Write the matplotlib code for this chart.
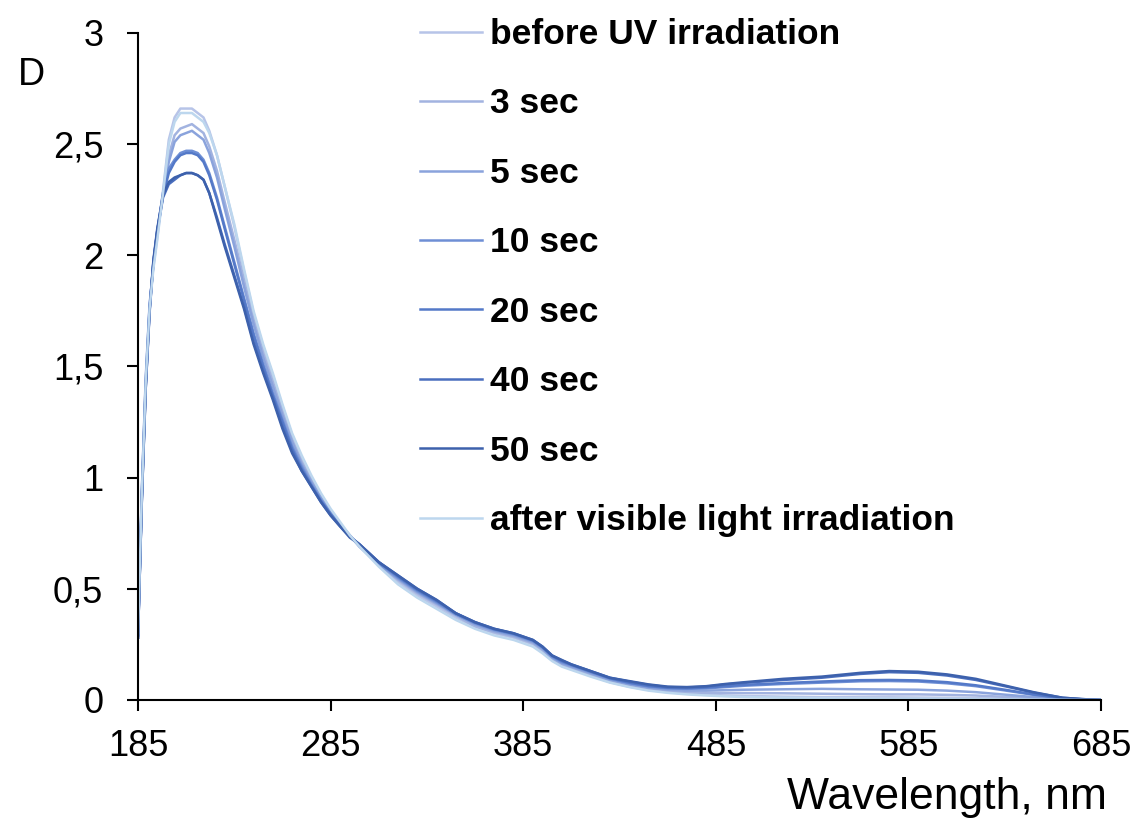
import matplotlib
matplotlib.use("Agg")
import matplotlib.pyplot as plt

plt.rcParams['font.family'] = ['Liberation Sans', 'DejaVu Sans']

wavelength = [185, 187, 189, 191, 193, 195, 198, 201, 204, 207, 210, 213, 216, 219, 222,
              226, 230, 235, 240, 245, 250, 255, 260, 265, 270, 275, 280, 285, 290, 295,
              300, 310, 320, 330, 340, 350, 360, 370, 380, 390, 395, 400, 405, 410, 420,
              430, 440, 450, 460, 470, 480, 490, 500, 520, 540, 560, 575, 590, 605, 620,
              635, 650, 665, 675, 685]

before_uv = [0.30, 0.95, 1.45, 1.78, 1.95, 2.08, 2.29, 2.52, 2.62, 2.66, 2.66, 2.66, 2.64, 2.62, 2.56,
             2.45, 2.31, 2.13, 1.93, 1.74, 1.59, 1.46, 1.32, 1.19, 1.09, 1.00, 0.92, 0.85, 0.79, 0.74,
             0.69, 0.61, 0.53, 0.47, 0.42, 0.37, 0.33, 0.30, 0.28, 0.25, 0.22, 0.18, 0.155, 0.14, 0.11,
             0.08, 0.06, 0.045, 0.035, 0.028, 0.024, 0.02, 0.018, 0.015, 0.013, 0.012, 0.012, 0.011, 0.01, 0.008,
             0.006, 0.004, 0.002, 0.001, 0.0]

sec_3 = [0.30, 0.94, 1.44, 1.77, 1.96, 2.10, 2.28, 2.45, 2.54, 2.57, 2.58, 2.59, 2.57, 2.55, 2.49,
         2.38, 2.24, 2.07, 1.89, 1.71, 1.56, 1.43, 1.30, 1.17, 1.07, 0.99, 0.91, 0.85, 0.79, 0.74,
         0.69, 0.61, 0.54, 0.48, 0.43, 0.38, 0.33, 0.305, 0.285, 0.255, 0.225, 0.185, 0.16, 0.145, 0.115,
         0.085, 0.065, 0.05, 0.04, 0.034, 0.032, 0.031, 0.031, 0.03, 0.028, 0.026, 0.025, 0.025, 0.023, 0.02,
         0.014, 0.008, 0.003, 0.001, 0.0]

sec_5 = [0.29, 0.93, 1.43, 1.77, 1.96, 2.10, 2.27, 2.42, 2.51, 2.54, 2.55, 2.56, 2.54, 2.52, 2.46,
         2.35, 2.21, 2.04, 1.86, 1.69, 1.54, 1.41, 1.28, 1.16, 1.06, 0.98, 0.91, 0.84, 0.79, 0.74,
         0.69, 0.61, 0.545, 0.485, 0.435, 0.385, 0.34, 0.31, 0.29, 0.26, 0.23, 0.19, 0.165, 0.15, 0.12,
         0.09, 0.07, 0.055, 0.046, 0.042, 0.042, 0.044, 0.046, 0.048, 0.05, 0.048, 0.047, 0.046, 0.042, 0.035,
         0.024, 0.013, 0.005, 0.002, 0.0]

sec_10 = [0.29, 0.92, 1.42, 1.76, 1.97, 2.11, 2.28, 2.39, 2.43, 2.46, 2.47, 2.47, 2.46, 2.43, 2.37,
          2.26, 2.13, 1.97, 1.81, 1.65, 1.51, 1.38, 1.26, 1.14, 1.05, 0.97, 0.90, 0.84, 0.785, 0.735,
          0.695, 0.615, 0.55, 0.49, 0.44, 0.385, 0.345, 0.315, 0.295, 0.265, 0.235, 0.195, 0.17, 0.155, 0.125,
          0.095, 0.075, 0.06, 0.052, 0.05, 0.052, 0.058, 0.064, 0.072, 0.078, 0.084, 0.085, 0.083, 0.075, 0.062,
          0.043, 0.023, 0.007, 0.002, 0.0]

sec_20 = [0.28, 0.91, 1.41, 1.75, 1.97, 2.11, 2.27, 2.37, 2.42, 2.45, 2.46, 2.46, 2.45, 2.42, 2.36,
          2.25, 2.12, 1.96, 1.80, 1.64, 1.50, 1.37, 1.25, 1.13, 1.04, 0.965, 0.895, 0.835, 0.785, 0.735,
          0.70, 0.62, 0.555, 0.495, 0.445, 0.39, 0.348, 0.318, 0.298, 0.268, 0.238, 0.198, 0.175, 0.158, 0.128,
          0.098, 0.078, 0.063, 0.055, 0.053, 0.056, 0.062, 0.068, 0.076, 0.083, 0.089, 0.09, 0.088, 0.08, 0.066,
          0.046, 0.025, 0.008, 0.003, 0.0]

sec_40 = [0.28, 0.90, 1.40, 1.74, 1.97, 2.11, 2.26, 2.32, 2.34, 2.36, 2.37, 2.37, 2.36, 2.34, 2.28,
          2.17, 2.05, 1.91, 1.77, 1.61, 1.48, 1.36, 1.23, 1.12, 1.03, 0.96, 0.89, 0.83, 0.78, 0.735,
          0.70, 0.62, 0.56, 0.50, 0.45, 0.39, 0.35, 0.32, 0.30, 0.27, 0.24, 0.20, 0.178, 0.16, 0.13,
          0.10, 0.083, 0.068, 0.058, 0.056, 0.06, 0.07, 0.077, 0.09, 0.10, 0.117, 0.125, 0.122, 0.11, 0.09,
          0.062, 0.033, 0.01, 0.004, 0.0]

sec_50 = [0.28, 0.90, 1.40, 1.75, 1.98, 2.12, 2.27, 2.33, 2.35, 2.36, 2.37, 2.37, 2.36, 2.34, 2.28,
          2.16, 2.04, 1.90, 1.76, 1.60, 1.47, 1.35, 1.22, 1.11, 1.03, 0.96, 0.89, 0.83, 0.78, 0.73,
          0.70, 0.62, 0.56, 0.50, 0.45, 0.39, 0.35, 0.32, 0.30, 0.27, 0.24, 0.20, 0.18, 0.16, 0.13,
          0.10, 0.085, 0.07, 0.06, 0.058, 0.062, 0.072, 0.08, 0.095, 0.105, 0.122, 0.13, 0.127, 0.115, 0.095,
          0.065, 0.035, 0.01, 0.004, 0.0]

after_visible = [0.30, 0.93, 1.43, 1.76, 1.94, 2.07, 2.28, 2.50, 2.60, 2.64, 2.64, 2.64, 2.62, 2.60, 2.55,
                 2.45, 2.31, 2.14, 1.94, 1.75, 1.60, 1.47, 1.33, 1.20, 1.10, 1.01, 0.93, 0.86, 0.80, 0.74,
                 0.69, 0.60, 0.52, 0.46, 0.41, 0.36, 0.32, 0.29, 0.27, 0.24, 0.21, 0.175, 0.15, 0.135, 0.105,
                 0.078, 0.058, 0.042, 0.032, 0.025, 0.02, 0.016, 0.013, 0.01, 0.008, 0.007, 0.006, 0.006, 0.005, 0.004,
                 0.003, 0.002, 0.001, 0.0, 0.0]

labels = ["before UV irradiation", "3 sec", "5 sec", "10 sec", "20 sec", "40 sec", "50 sec",
          "after visible light irradiation"]
series = [before_uv, sec_3, sec_5, sec_10, sec_20, sec_40, sec_50, after_visible]
colors = ["#b7c4e8", "#a2b3e0", "#8aa3dc", "#6e8fd5", "#5479c8", "#4a6ebe", "#3d61ac", "#bdd7ee"]

x_ticks = [185, 285, 385, 485, 585, 685]
y_ticks = [0, 0.5, 1, 1.5, 2, 2.5, 3]
y_tick_labels = ["0", "0,5", "1", "1,5", "2", "2,5", "3"]

fig = plt.figure(figsize=(11.33, 8.18), dpi=100)
ax = fig.add_axes([0.1218, 0.1443, 0.8500, 0.8154])

for vals, lab, col in zip(series, labels, colors):
    ax.plot(wavelength, vals, color=col, lw=1.8, label=lab, solid_joinstyle='round')

ax.set_xlim(185, 685)
ax.set_ylim(0, 3)
ax.set_xticks(x_ticks)
ax.set_xticklabels([str(t) for t in x_ticks])
ax.set_yticks(y_ticks)
ax.set_yticklabels(y_tick_labels)
ax.tick_params(axis='both', direction='out', length=8, width=1.5, labelsize=26, colors='black')
ax.tick_params(axis='y', pad=17)
ax.tick_params(axis='x', pad=13)
for s in ['top', 'right']:
    ax.spines[s].set_visible(False)
for s in ['left', 'bottom']:
    ax.spines[s].set_linewidth(1.5)
    ax.spines[s].set_color('black')

leg = ax.legend(loc='upper left', bbox_to_anchor=(0.2928, 1.0225), frameon=False,
                prop={'weight': 'bold', 'size': 25.5}, handlelength=1.75, handletextpad=0.23,
                labelspacing=1.03, borderaxespad=0, borderpad=0)

fig.text(31 / 1133, 1 - 75 / 818, "D", fontsize=27, ha='center', va='center')
fig.text(1107 / 1133, 1 - 797 / 818, "Wavelength, nm", fontsize=32, ha='right', va='center')

fig.savefig("out.png", dpi=100)
